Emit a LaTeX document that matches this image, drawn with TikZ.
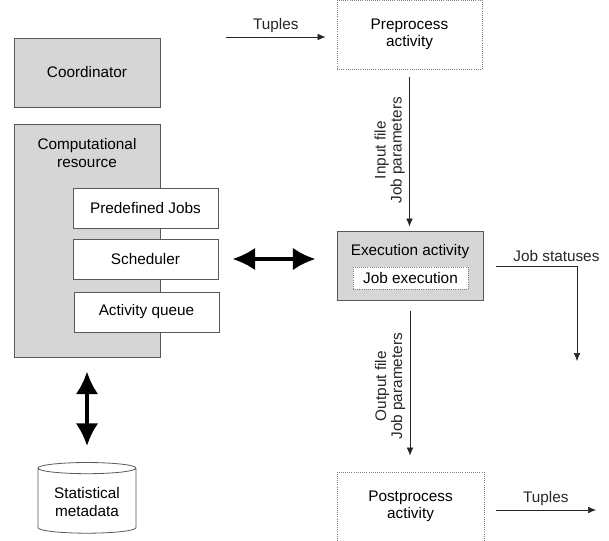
\documentclass[tikz,border=0pt]{standalone}
\usepackage{fontspec}
\setmainfont{Liberation Sans}
\usetikzlibrary{arrows.meta,shapes.geometric}
\definecolor{boxgrey}{gray}{0.84}
\definecolor{edgegrey}{gray}{0.35}

\tikzset{
  greybox/.style={draw=edgegrey, fill=boxgrey, line width=0.6pt, inner sep=0pt},
  whitebox/.style={draw=edgegrey, fill=white, line width=0.6pt, inner sep=0pt},
  dotbox/.style={draw=gray, densely dotted, line width=0.6pt, inner sep=0pt, align=center},
  thinarrow/.style={-{Latex[length=6pt,width=5pt]}, line width=0.5pt, black!85},
  fatarrow/.style={{Latex[length=17pt,width=17pt]}-{Latex[length=17pt,width=17pt]}, line width=3pt},
  sidelabel/.style={rotate=90, anchor=south, align=center, font=\fontsize{11.5pt}{12pt}\selectfont},
}

\begin{document}
\begin{tikzpicture}[x=0.75pt, y=-0.75pt, font=\fontsize{11.5pt}{13pt}\selectfont]
\useasboundingbox (0,0) rectangle (609,540);

% left column
\node[greybox, minimum width=109.5pt, minimum height=51.75pt] (coord) at (87,72.5) {Coordinator};
\node[greybox, minimum width=109.5pt, minimum height=174.75pt] (comp) at (87,240.5) {};
\node[align=center] (complab) at (87,153) {Computational\\resource};
\node[whitebox, minimum width=108.75pt, minimum height=30pt] (pjobs) at (145.5,208) {Predefined Jobs};
\node[whitebox, minimum width=108.75pt, minimum height=30pt] (sched) at (145.5,259) {Scheduler};
\node[whitebox, minimum width=108.75pt, minimum height=30pt] (aqueue) at (146.5,312) {Activity queue};
\node[cylinder, shape border rotate=90, aspect=0.15, draw=edgegrey, fill=white, line width=0.6pt,
      minimum width=73.5pt, minimum height=53pt, align=center] (db) at (87,502) {Statistical\\metadata};

% right column
\node[dotbox, minimum width=108.75pt, minimum height=51.75pt] (pre) at (409.5,34.5) {Preprocess\\activity};
\node[greybox, minimum width=109.5pt, minimum height=51.75pt] (exec) at (410,266) {};
\node (execlab) at (410,252) {Execution activity};
\node[dotbox, fill=white, minimum width=86.25pt, minimum height=16.5pt] (jobex) at (410.5,278) {Job execution};
\node[dotbox, minimum width=110.25pt, minimum height=51.75pt] (post) at (410.5,506.5) {Postprocess\\activity};

% connectors
\coordinate (tupin) at (226,37);
\coordinate (statend) at (577,361);
\coordinate (tupout) at (596,510);
\draw[thinarrow, shorten >=8.25pt] (tupin) -- (pre.west |- tupin) node[pos=0.45, above] {Tuples};
\draw[thinarrow, shorten <=6pt, shorten >=3.4pt] (pre.south) -- (pre.south |- exec.north)
  node[midway, sidelabel] {Input file\\Job parameters};
\draw[thinarrow, shorten <=9.75pt] (exec.east) -| (statend) node[pos=0.39, above] {Job statuses};
\draw[thinarrow, shorten <=7.9pt, shorten >=12pt] (exec.south) -- (exec.south |- post.north)
  node[midway, sidelabel] {Output file\\Job parameters};
\draw[thinarrow, shorten <=9pt] (post.east |- tupout) -- (tupout) node[pos=0.55, above] {Tuples};
\draw[fatarrow, shorten <=10.5pt, shorten >=15.75pt] (sched.east) -- (sched.east -| exec.west);
\draw[fatarrow, shorten <=10.5pt, shorten >=12pt] (comp.south) -- (comp.south |- db.north);
\end{tikzpicture}
\end{document}
